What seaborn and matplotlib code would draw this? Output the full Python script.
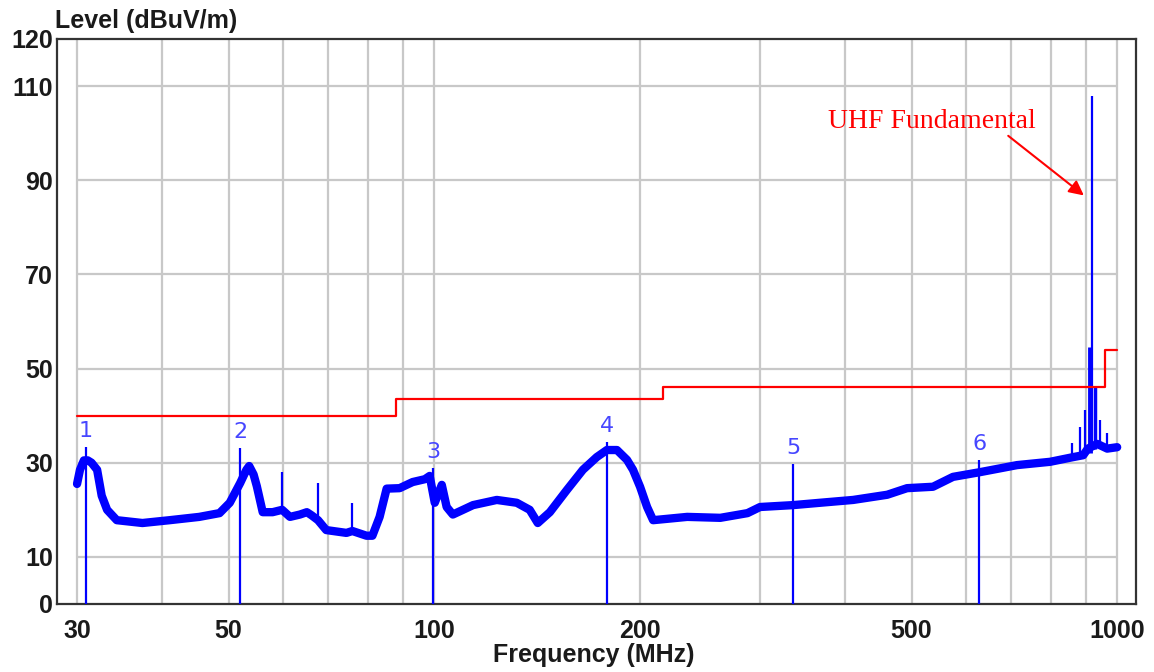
import matplotlib
matplotlib.use('Agg')
import matplotlib.pyplot as plt
import seaborn as sns
import pandas as pd

freq = [30.0, 30.3, 30.7, 31.1, 31.5, 32.1, 32.6, 33.2, 34.3, 37.4, 41.0, 45.3, 48.5,
        50.2, 52.0, 53.1, 53.6, 54.4, 55.0, 56.1, 58.0, 59.9, 61.5, 63.6, 65.1, 66.2,
        67.6, 69.5, 74.4, 75.9, 79.6, 81.2, 83.2, 85.2, 89.0, 93.0, 96.9, 98.5, 100.2,
        102.6, 104.3, 106.5, 110.2, 114.0, 123.5, 132.1, 138.0, 141.8, 147.7, 156.4,
        165.1, 173.0, 179.0, 185.2, 191.6, 195.5, 200.2, 205.0, 209.2, 234.7, 262.4,
        287.6, 300.0, 335.3, 367.4, 410.6, 460.6, 492.5, 537.5, 575.0, 629.7, 713.7,
        797.8, 862.5, 891.9, 906.0, 935.0, 950.9, 967.0, 1000.0]
level = [25.5, 28.5, 30.5, 30.5, 30.0, 28.5, 23.0, 20.0, 17.8, 17.2, 17.8, 18.5, 19.3,
         21.5, 25.7, 28.5, 29.3, 27.5, 25.0, 19.5, 19.5, 20.0, 18.5, 19.0, 19.5, 18.8,
         17.8, 15.7, 15.1, 15.5, 14.5, 14.5, 18.5, 24.5, 24.6, 25.9, 26.5, 27.2, 21.5,
         25.3, 20.6, 19.0, 20.0, 21.0, 22.1, 21.5, 20.0, 17.2, 19.5, 24.2,
         28.5, 31.2, 32.7, 32.7, 30.6, 28.5, 24.9, 20.6, 17.8, 18.5, 18.3,
         19.3, 20.6, 21.0, 21.5, 22.1, 23.2, 24.6, 24.9, 27.0, 28.0, 29.5,
         30.2, 31.2, 31.6, 33.0, 34.0, 33.5, 33.0, 33.3]

# narrow spikes on the trace
spike_freq = [59.9, 67.6, 75.9, 859.5, 883.0, 898.0, 913.0, 919.5, 928.8, 944.6, 967.0]
spike_base = [20.0, 18.0, 15.5, 31.0, 31.5, 32.0, 32.0, 34.0, 33.0, 34.0, 33.0]
spike_top = [28.0, 25.7, 21.5, 34.2, 37.6, 41.2, 54.5, 107.9, 46.0, 39.0, 36.3]
spike_width = [1.6, 1.6, 1.6, 1.6, 1.6, 1.6, 3.5, 1.6, 2.5, 1.6, 1.6]

# limit line
limit_freq = [30, 88, 216, 960, 1000]
limit_level = [40, 43.5, 46, 54, 54]

# markers
marker_id = ['1', '2', '3', '4', '5', '6']
marker_freq = [30.93, 51.96, 99.6, 179.1, 335.3, 627.9]
marker_level = [33.3, 33.1, 28.9, 34.5, 29.7, 30.6]

xticks = [30, 50, 100, 200, 500, 1000]
yticks = [0, 10, 30, 50, 70, 90, 110, 120]
grid_x = [30, 40, 50, 60, 70, 80, 90, 100, 200, 300, 400, 500, 600, 700, 800, 900, 1000]
grid_y = [10, 30, 50, 70, 90, 110]

sns.set_style('white')
plt.rcParams['font.family'] = ['Liberation Sans', 'DejaVu Sans']

fig = plt.figure(figsize=(11.54, 6.72), dpi=100)
ax = fig.add_axes([0.0494, 0.1012, 0.935, 0.8408])

ax.set_xscale('log')
ax.set_xlim(28.04, 1065.6)
ax.set_ylim(0, 120)

gcol = '#c8c8c8'
ax.vlines(grid_x, 0, 120, color=gcol, lw=1.6, zorder=0)
ax.hlines(grid_y, 30, 1000, color=gcol, lw=1.6, zorder=0)

df = pd.DataFrame({'freq': freq, 'level': level})
sns.lineplot(data=df, x='freq', y='level', ax=ax, color='#0000ff', lw=6,
             sort=False, estimator=None, zorder=3)
ax.vlines(spike_freq, spike_base, spike_top, color='#0000ff', lw=spike_width, zorder=3)

ax.step(limit_freq, limit_level, where='post', color='#ff0000', lw=1.6, zorder=4)

ax.vlines(marker_freq, 0, marker_level, color='#0000ff', lw=1.6, zorder=4)
for m, f, l in zip(marker_id, marker_freq, marker_level):
    ax.text(f, l + 3.4, m, color='#4646ff', fontsize=16, ha='center', va='center',
            family='DejaVu Sans', zorder=5)

ax.text(377.4, 102.4, 'UHF Fundamental', color='#ff0000', fontsize=20,
        family='Liberation Serif', ha='left', va='center')
ax.annotate('', xy=(900.5, 86.4), xytext=(687.6, 99.8),
            arrowprops=dict(arrowstyle='-|>', color='#ff0000', lw=1.5, mutation_scale=22))

ax.set_xticks(xticks)
ax.set_xticklabels([str(t) for t in xticks])
ax.minorticks_off()
ax.set_yticks(yticks)
ax.tick_params(axis='both', length=0, labelsize=18, labelcolor='#1a1a1a')
ax.tick_params(axis='x', pad=11)
ax.tick_params(axis='y', pad=3)
for lab in ax.get_xticklabels() + ax.get_yticklabels():
    lab.set_fontweight('bold')

for s in ax.spines.values():
    s.set_color('#333333')
    s.set_linewidth(1.6)

ax.set_xlabel('')
ax.set_ylabel('')
fig.text(55 / 1154, 1 - 21 / 672, 'Level (dBuV/m)', fontsize=18, fontweight='bold',
         color='#1a1a1a', ha='left', va='center')
fig.text(594 / 1154, 1 - 655 / 672, 'Frequency (MHz)', fontsize=18, fontweight='bold',
         color='#1a1a1a', ha='center', va='center')

fig.savefig('out.png', dpi=100)
